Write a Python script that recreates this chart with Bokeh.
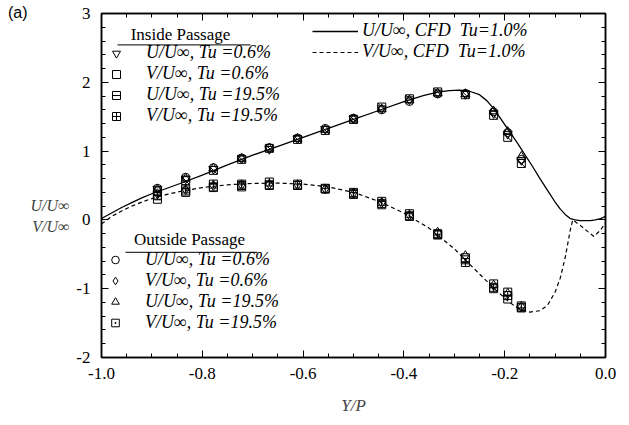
import math
from bokeh.plotting import figure
from bokeh.models import (Range1d, LinearAxis, FixedTicker, Legend, LegendItem,
                          Label, BoxAnnotation)
from bokeh.embed import file_html
from bokeh.resources import INLINE

# ---------------- data ----------------
yp = [-0.889, -0.833, -0.778, -0.722, -0.667, -0.611, -0.556, -0.500,
      -0.444, -0.389, -0.333, -0.278, -0.222, -0.194, -0.167]

# Inside passage
u_in_06 = [0.45, 0.60, 0.74, 0.89, 1.03, 1.18, 1.32, 1.47, 1.62, 1.75, 1.85, 1.83, 1.55, 1.25, 0.87]
v_in_06 = [0.30, 0.40, 0.47, 0.48, 0.50, 0.50, 0.45, 0.37, 0.22, 0.05, -0.20, -0.55, -0.93, -1.05, -1.25]
u_in_195 = [0.42, 0.57, 0.72, 0.88, 1.04, 1.17, 1.30, 1.46, 1.64, 1.76, 1.86, 1.82, 1.52, 1.20, 0.82]
v_in_195 = [0.35, 0.45, 0.52, 0.52, 0.55, 0.52, 0.46, 0.40, 0.27, 0.09, -0.22, -0.62, -0.98, -1.10, -1.28]

# Outside passage
u_out_06 = [0.46, 0.62, 0.76, 0.90, 1.05, 1.19, 1.33, 1.48, 1.60, 1.72, 1.83, 1.84, 1.57, 1.27, 0.88]
v_out_06 = [0.38, 0.44, 0.50, 0.51, 0.52, 0.51, 0.45, 0.39, 0.25, 0.07, -0.18, -0.52, -0.95, -1.07, -1.26]
u_out_195 = [0.44, 0.60, 0.75, 0.89, 1.04, 1.18, 1.31, 1.46, 1.61, 1.74, 1.84, 1.83, 1.58, 1.28, 0.92]
v_out_195 = [0.36, 0.42, 0.48, 0.50, 0.51, 0.50, 0.45, 0.38, 0.24, 0.06, -0.21, -0.58, -1.00, -1.15, -1.27]

# CFD, Tu = 1.0%
cfd_u_x = [-1.0, -0.98, -0.96, -0.94, -0.92, -0.9, -0.87, -0.84, -0.8, -0.75, -0.7, -0.65,
           -0.6, -0.55, -0.5, -0.45, -0.4, -0.36, -0.33, -0.31, -0.29, -0.27, -0.25,
           -0.235, -0.22, -0.205, -0.19, -0.175, -0.16, -0.145, -0.13, -0.115, -0.1,
           -0.09, -0.08, -0.07, -0.06, -0.05, -0.04, -0.03, -0.02, -0.01, 0.0]
cfd_u = [0.02, 0.10, 0.18, 0.25, 0.32, 0.38, 0.46, 0.54, 0.65, 0.80, 0.94, 1.07,
         1.20, 1.33, 1.46, 1.59, 1.72, 1.81, 1.86, 1.88, 1.885, 1.87, 1.82,
         1.73, 1.60, 1.44, 1.28, 1.12, 0.95, 0.78, 0.60, 0.43, 0.26,
         0.16, 0.08, 0.02, 0.0, -0.01, -0.01, -0.01, 0.0, 0.02, 0.05]
cfd_v_x = [-1.0, -0.98, -0.96, -0.94, -0.92, -0.9, -0.87, -0.84, -0.8, -0.75, -0.7, -0.65,
           -0.6, -0.55, -0.5, -0.45, -0.4, -0.35, -0.3, -0.27, -0.24, -0.21, -0.19,
           -0.17, -0.15, -0.13, -0.115, -0.1, -0.09, -0.08, -0.07, -0.065, -0.05,
           -0.035, -0.023, -0.01, 0.0]
cfd_v = [-0.06, 0.05, 0.13, 0.20, 0.26, 0.31, 0.37, 0.42, 0.47, 0.51, 0.53, 0.535,
         0.52, 0.48, 0.40, 0.27, 0.10, -0.12, -0.42, -0.64, -0.86, -1.07, -1.20,
         -1.30, -1.34, -1.32, -1.24, -1.05, -0.85, -0.55, -0.15, 0.0, -0.08,
         -0.17, -0.24, -0.15, -0.04]

x_ticks = [-1.0, -0.8, -0.6, -0.4, -0.2, 0.0]
x_tick_labels = ["-1.0", "-0.8", "-0.6", "-0.4", "-0.2", "0.0"]
y_ticks = [-2, -1, 0, 1, 2, 3]
y_tick_labels = ["-2", "-1", "0", "1", "2", "3"]

# ---------------- layout (canvas pixels) ----------------
SERIF = "Liberation Serif"
W, H = 621, 417
FL, FR, FT, FB = 101, 605, 13, 363   # plotting frame


def px_x(px):
    return -1.0 + (px - FL) / (FR - FL) * 1.0


def px_y(py):
    return 3.0 - (py - FT) / (FB - FT) * 5.0


p = figure(width=W, height=H, x_range=Range1d(-1.0, 0.0), y_range=Range1d(-2, 3),
           output_backend="svg", toolbar_location=None,
           min_border_left=FL, min_border_right=W - FR,
           min_border_top=FT, min_border_bottom=H - FB)
p.xgrid.grid_line_color = None
p.ygrid.grid_line_color = None
p.outline_line_color = "black"
p.outline_line_width = 1.5
p.background_fill_color = "white"
p.border_fill_color = "white"

x_minor = [round(-1.0 + 0.05 * i, 2) for i in range(21)]
y_minor = [round(-2.0 + 0.2 * i, 1) for i in range(26)]


def style_axis(ax, labels=True):
    ax.axis_line_color = "black"
    ax.axis_line_width = 1.5
    ax.major_tick_in = 7
    ax.major_tick_out = 0
    ax.minor_tick_in = 4
    ax.minor_tick_out = 0
    ax.major_tick_line_color = "black"
    ax.minor_tick_line_color = "black"
    ax.major_tick_line_width = 1
    ax.minor_tick_line_width = 1
    if labels:
        ax.major_label_text_font = SERIF
        ax.major_label_text_font_size = "17px"
        ax.major_label_text_color = "black"
    else:
        ax.major_label_text_font_size = "1px"
        ax.major_label_standoff = 0


xt = FixedTicker(ticks=x_ticks, minor_ticks=x_minor)
yt = FixedTicker(ticks=y_ticks, minor_ticks=y_minor)

p.xaxis.ticker = xt
p.yaxis.ticker = yt
p.xaxis.major_label_overrides = dict(zip(x_ticks, x_tick_labels))
p.yaxis.major_label_overrides = dict(zip(y_ticks, y_tick_labels))
style_axis(p.xaxis[0])
style_axis(p.yaxis[0])
p.xaxis.major_label_standoff = 10
p.yaxis.major_label_standoff = 11

p.xaxis.axis_label = "Y/P"
p.xaxis.axis_label_text_font = SERIF
p.xaxis.axis_label_text_font_style = "italic"
p.xaxis.axis_label_text_font_size = "17px"
p.xaxis.axis_label_standoff = 14

# blank leading lines push the two-line label below the frame centre, as in the reference
p.yaxis.axis_label = "\n\n\nU/U\u221e\nV/U\u221e"
p.yaxis.axis_label_orientation = "horizontal"
p.yaxis.axis_label_text_font = SERIF
p.yaxis.axis_label_text_font_style = "italic"
p.yaxis.axis_label_text_font_size = "16px"
p.yaxis.axis_label_standoff = 4

top_ax = LinearAxis(ticker=FixedTicker(ticks=x_ticks, minor_ticks=x_minor),
                    major_label_overrides={t: "" for t in x_ticks})
style_axis(top_ax, labels=False)
p.add_layout(top_ax, "above")
right_ax = LinearAxis(ticker=FixedTicker(ticks=y_ticks, minor_ticks=y_minor),
                      major_label_overrides={t: "" for t in y_ticks})
style_axis(right_ax, labels=False)
p.add_layout(right_ax, "right")

# panel tag "(a)": label of a bare extra axis in the left panel; trailing blank
# lines lift it to the top-left corner
tag_ax = LinearAxis(ticker=FixedTicker(ticks=[], minor_ticks=[]),
                    axis_label="(a)" + "\n" * 17,
                    axis_label_orientation="horizontal",
                    axis_label_text_font="Liberation Sans",
                    axis_label_text_font_style="normal",
                    axis_label_text_font_size="16px",
                    axis_label_text_color="black",
                    axis_label_standoff=0, axis_line_color=None,
                    major_tick_in=0, major_tick_out=0, minor_tick_in=0,
                    minor_tick_out=0, major_label_standoff=0,
                    major_label_text_font_size="1px")
p.add_layout(tag_ax, "left")

# ---------------- CFD lines ----------------
l_u = p.line(cfd_u_x, cfd_u, line_color="black", line_width=1.3)
l_v = p.line(cfd_v_x, cfd_v, line_color="black", line_width=1.2, line_dash="4 3")

# ---------------- markers ----------------
MS = 9
kw = dict(line_color="black", fill_color=None, line_width=1)

r_in_u06 = p.scatter(yp, u_in_06, marker="inverted_triangle", size=MS, **kw)
r_in_v06 = p.scatter(yp, v_in_06, marker="square", size=MS - 1, **kw)
r_in_u195 = p.scatter(yp, u_in_195, marker="square", size=MS - 1, **kw)
r_in_u195d = p.scatter(yp, u_in_195, marker="dash", size=(MS - 1) * 1.35,
                       angle=-math.pi / 4, line_color="black", line_width=1)
r_in_v195 = p.scatter(yp, v_in_195, marker="square_cross", size=MS - 1, **kw)

r_out_u06 = p.scatter(yp, u_out_06, marker="circle", size=MS - 1, **kw)
r_out_v06 = p.scatter(yp, v_out_06, marker="diamond", size=MS + 1, **kw)
r_out_u195 = p.scatter(yp, u_out_195, marker="triangle", size=MS, **kw)
r_out_v195 = p.scatter(yp, v_out_195, marker="square_dot", size=MS - 1, **kw)


# ---------------- legends ----------------
def make_legend(items, loc, gw, gh, standoff):
    lg = Legend(items=items, location=loc, orientation="vertical",
                glyph_width=gw, glyph_height=gh, label_height=gh, label_width=10,
                spacing=0, padding=0, margin=0, label_standoff=standoff,
                border_line_color=None, background_fill_alpha=0,
                label_text_font=SERIF, label_text_font_style="italic",
                label_text_font_size="18px", label_text_color="black")
    return lg


leg_in = make_legend([
    LegendItem(label="U/U\u221e, Tu =0.6%", renderers=[r_in_u06]),
    LegendItem(label="V/U\u221e, Tu =0.6%", renderers=[r_in_v06]),
    LegendItem(label="U/U\u221e, Tu =19.5%", renderers=[r_in_u195, r_in_u195d]),
    LegendItem(label="V/U\u221e, Tu =19.5%", renderers=[r_in_v195]),
], (5, 231), 20, 20, 20)
p.add_layout(leg_in)

leg_out = make_legend([
    LegendItem(label="U/U\u221e, Tu =0.6%", renderers=[r_out_u06]),
    LegendItem(label="V/U\u221e, Tu =0.6%", renderers=[r_out_v06]),
    LegendItem(label="U/U\u221e, Tu =19.5%", renderers=[r_out_u195]),
    LegendItem(label="V/U\u221e, Tu =19.5%", renderers=[r_out_v195]),
], (4, 24), 20, 19, 20)
p.add_layout(leg_out)

leg_cfd = make_legend([
    LegendItem(label="U/U\u221e, CFD  Tu=1.0%", renderers=[l_u]),
    LegendItem(label="V/U\u221e, CFD  Tu=1.0%", renderers=[l_v]),
], (211, 295), 46, 20, 4)
p.add_layout(leg_cfd)

# legend titles with underline
for text, cx, cy, ux0, ux1, uy in [("Inside Passage", 180, 34, 117, 250, 45),
                                    ("Outside Passage", 189, 243, 125, 257, 256)]:
    p.add_layout(Label(x=px_x(cx), y=px_y(cy), text=text, text_font=SERIF,
                       text_font_size="17px", text_align="center",
                       text_baseline="middle", text_color="black"))
    p.add_layout(BoxAnnotation(left=px_x(ux0), right=px_x(ux1),
                               top=px_y(uy - 0.6), bottom=px_y(uy + 0.6),
                               fill_color="#333333", fill_alpha=1, line_color=None))

open("out.html", "w").write(file_html(p, INLINE))
